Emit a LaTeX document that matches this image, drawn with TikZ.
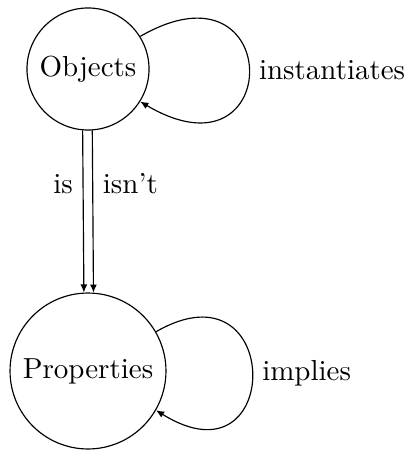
\documentclass[tikz,border=0pt]{standalone}
\usetikzlibrary{arrows.meta}
\begin{document}
\begin{tikzpicture}[x=0.345pt,y=-0.345pt,
    concept/.style={draw,circle,inner sep=0pt,line width=0.4pt},
    rel/.style={-{Latex[length=2.8pt,width=2.4pt]},line width=0.4pt}]
  \useasboundingbox (0,0) rectangle (408,450);

  \node[concept,minimum size=42.1pt] (O) at (88,69) {Objects};
  \node[concept,minimum size=53.8pt] (P) at (88,371) {Properties};

  % self-relations
  \draw[rel] (O.32) .. controls (285,-47) and (285,187) .. (O.-32)
    node[pos=0.5,right] (inst) {instantiates};
  \draw[rel] (P.30) .. controls (284,258) and (284,490) .. (P.-30)
    node[pos=0.5,right] (impl) {implies};

  % relations between the two concepts
  \draw[rel] (O.265.3) -- (P.93.7) node[pos=0.33,left] (is) {is};
  \draw[rel] (O.274.7) -- (P.86.3) node[pos=0.33,right] (isnt) {isn't};
\end{tikzpicture}
\end{document}
